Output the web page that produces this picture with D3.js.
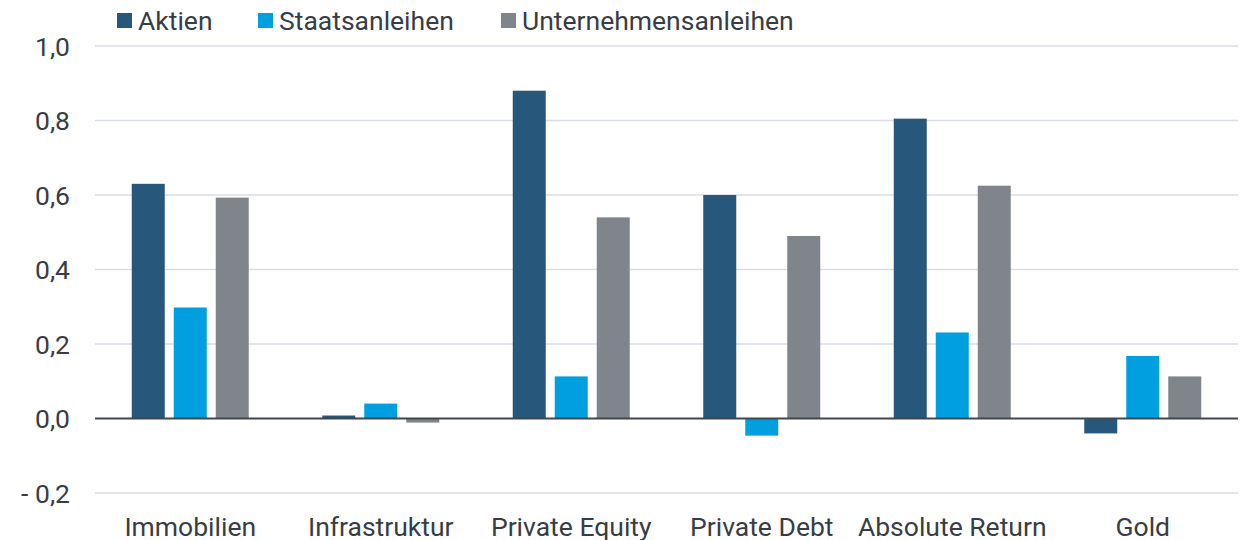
<!DOCTYPE html>
<html>
<head>
<meta charset="utf-8">
<script src="https://cdn.jsdelivr.net/npm/d3@7"></script>
<style>
  body { margin: 0; background: #fff; }
  text { font-family: Roboto, "Open Sans", sans-serif; fill: #383d45; }
</style>
</head>
<body>
<div id="chart"></div>
<script>
// data
const categories = ["Immobilien", "Infrastruktur", "Private Equity", "Private Debt", "Absolute Return", "Gold"];
const series = ["Aktien", "Staatsanleihen", "Unternehmensanleihen"];
const aktien = [0.63, 0.008, 0.88, 0.6, 0.805, -0.04];
const staatsanleihen = [0.298, 0.04, 0.113, -0.046, 0.231, 0.168];
const unternehmensanleihen = [0.593, -0.011, 0.54, 0.49, 0.625, 0.113];
const yTicks = [-0.2, 0, 0.2, 0.4, 0.6, 0.8, 1.0];
const colors = ["#27577b", "#00a0e0", "#7f858b"];

const values = [aktien, staatsanleihen, unternehmensanleihen];
const data = [];
categories.forEach((c, i) => {
  series.forEach((s, j) => data.push({cat: c, ser: s, val: values[j][i]}));
});

const width = 1246, height = 540;
const svg = d3.select("#chart").append("svg")
  .attr("width", width)
  .attr("height", height);

const x = d3.scaleBand()
  .domain(categories)
  .range([95, 1238]);

const x1 = d3.scaleBand()
  .domain(series)
  .range([-58.5, 58.5])
  .paddingInner(9 / 42);

const y = d3.scaleLinear()
  .domain([-0.2, 1.0])
  .range([493, 46]);

const fmt = v => (v < -0.001 ? "- " : "") + d3.format(".1f")(Math.abs(v)).replace(".", ",");

// grid lines
svg.append("g")
  .selectAll("line")
  .data(yTicks.filter(t => t !== 0))
  .join("line")
    .attr("x1", 95)
    .attr("x2", 1238)
    .attr("y1", d => y(d))
    .attr("y2", d => y(d))
    .style("stroke", "#d8dde8")
    .style("stroke-width", 1.3);

// y axis labels
svg.append("g")
  .selectAll("text")
  .data(yTicks)
  .join("text")
    .attr("x", 70)
    .attr("y", d => y(d))
    .attr("dy", "0.36em")
    .attr("text-anchor", "end")
    .style("font-size", "26.5px")
    .text(fmt);

// bars
svg.append("g")
  .selectAll("rect")
  .data(data)
  .join("rect")
    .attr("x", d => x(d.cat) + x.bandwidth() / 2 + x1(d.ser))
    .attr("width", x1.bandwidth())
    .attr("y", d => y(Math.max(0, d.val)))
    .attr("height", d => Math.abs(y(d.val) - y(0)))
    .style("fill", d => colors[series.indexOf(d.ser)]);

// zero line
svg.append("line")
  .attr("x1", 95)
  .attr("x2", 1238)
  .attr("y1", y(0))
  .attr("y2", y(0))
  .style("stroke", "#40464e")
  .style("stroke-width", 2);

// category labels
svg.append("g")
  .selectAll("text")
  .data(categories)
  .join("text")
    .attr("x", d => x(d) + x.bandwidth() / 2)
    .attr("y", 536)
    .attr("text-anchor", "middle")
    .style("font-size", "26.5px")
    .text(d => d);

// legend
const legendX = [117, 258, 501];
const legend = svg.append("g")
  .selectAll("g")
  .data(series)
  .join("g")
    .attr("transform", (d, i) => `translate(${legendX[i]}, 13)`);
legend.append("rect")
  .attr("width", 15)
  .attr("height", 15)
  .style("fill", (d, i) => colors[i]);
legend.append("text")
  .attr("x", 21)
  .attr("y", 7.5)
  .attr("dy", "0.36em")
  .style("font-size", "26.5px")
  .text(d => d);
</script>
</body>
</html>
